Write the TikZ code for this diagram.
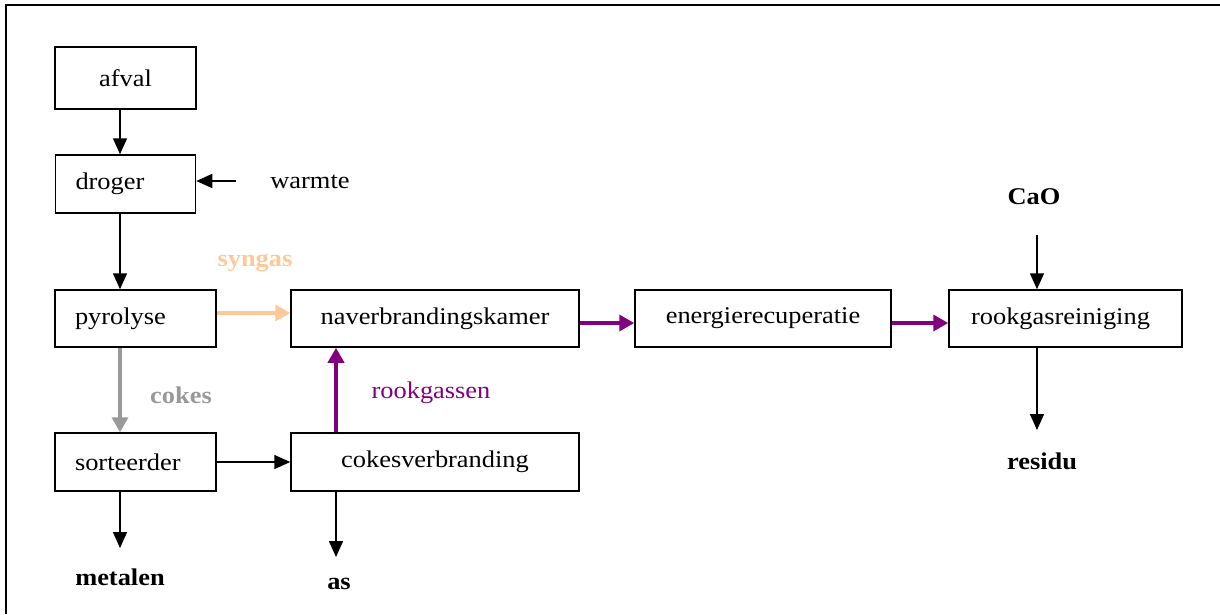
\documentclass[tikz,border=0pt]{standalone}
\usepackage{fontspec}
\setmainfont{Liberation Serif}[FakeStretch=1.1]
\usetikzlibrary{arrows.meta}
\definecolor{syngascol}{HTML}{FFC896}
\definecolor{smokecol}{HTML}{800080}
\definecolor{cokescol}{HTML}{999999}
\begin{document}
\begin{tikzpicture}[x=1pt,y=-1pt,
  every node/.style={font=\fontsize{24}{28}\selectfont},
  boldtext/.style={font=\fontsize{24}{28}\selectfont\bfseries},
  box/.style={draw, line width=1.5pt, inner sep=0pt},
  leftbox/.style={box, align=left, inner xsep=20pt},
  lbl/.style={inner sep=0pt},
  blk/.style={line width=1.6pt, -{Triangle[length=16pt,width=14pt]}},
  thick flow/.style={line width=3.5pt, -{Triangle[length=15pt,width=16pt]}},
]
\useasboundingbox (0,0) rectangle (1220,614);
% frame
\draw[line width=2pt] (6,614) -- (6,5) -- (1220,5);

% process boxes
\node[box, minimum width=141pt, minimum height=62pt] (afval) at (125.5,78) {afval};
\node[leftbox, text width=100pt, minimum height=58pt] (droger) at (125.5,184) {droger};
\node[leftbox, text width=121pt, minimum height=57pt] (pyro) at (135.5,318.5) {pyrolyse};
\node[box, minimum width=288pt, minimum height=57pt] (naver) at (435,318.5) {naverbrandingskamer};
\node[box, minimum width=256pt, minimum height=57pt] (energie) at (763,318.5) {energierecuperatie};
\node[box, minimum width=233pt, minimum height=57pt] (rgr) at (1065.5,318.5) {\hspace*{-10pt}rookgasreiniging};
\node[leftbox, text width=121pt, minimum height=58pt] (sort) at (135.5,462) {sorteerder};
\node[box, minimum width=288pt, minimum height=58pt] (cokesv) at (435,462) {cokesverbranding};

% free labels
\node[lbl] (warmte) at (310,182) {warmte};
\node[lbl, text=syngascol, boldtext] (syngas) at (255,263) {syngas};
\node[lbl, text=cokescol, boldtext] (cokes) at (181,395) {cokes};
\node[lbl, text=smokecol] (rookgassen) at (431,393) {rookgassen};
\node[lbl, boldtext] (cao) at (1034,197) {CaO};
\node[lbl, boldtext] (residu) at (1042,461) {residu};
\node[lbl, boldtext] (metalen) at (120,577) {metalen};
\node[lbl, boldtext] (as) at (339,584) {as};

% arrow columns and loose ends
\coordinate (colA) at (120,0);
\coordinate (colB) at (336,0);
\coordinate (colC) at (1037,0);
\coordinate (warmteend) at (236,181);
\coordinate (caostart) at (1037,235);
\coordinate (residuend) at (1037,430);
\coordinate (metalenend) at (120,548);
\coordinate (asend) at (336,557);

% material flow
\draw[blk] (afval.south -| colA) -- (droger.north -| colA);
\draw[blk] (warmteend) -- (droger.east |- warmteend);
\draw[blk] (droger.south -| colA) -- (pyro.north -| colA);
\draw[thick flow, cokescol] (pyro.south -| colA) -- (sort.north -| colA);
\draw[thick flow, syngascol] ([yshift=5.5pt]pyro.east) -- ([yshift=5.5pt]naver.west);
\draw[thick flow, smokecol] ([yshift=-4.5pt]naver.east) -- ([yshift=-4.5pt]energie.west);
\draw[thick flow, smokecol] ([yshift=-4.5pt]energie.east) -- ([yshift=-4.5pt]rgr.west);
\draw[thick flow, smokecol] (cokesv.north -| colB) -- (naver.south -| colB);
\draw[blk] (sort.east) -- (cokesv.west);
\draw[blk] (sort.south -| colA) -- (metalenend);
\draw[blk] (cokesv.south -| colB) -- (asend);
\draw[blk] (caostart) -- (rgr.north -| colC);
\draw[blk] (rgr.south -| colC) -- (residuend);
\end{tikzpicture}
\end{document}
